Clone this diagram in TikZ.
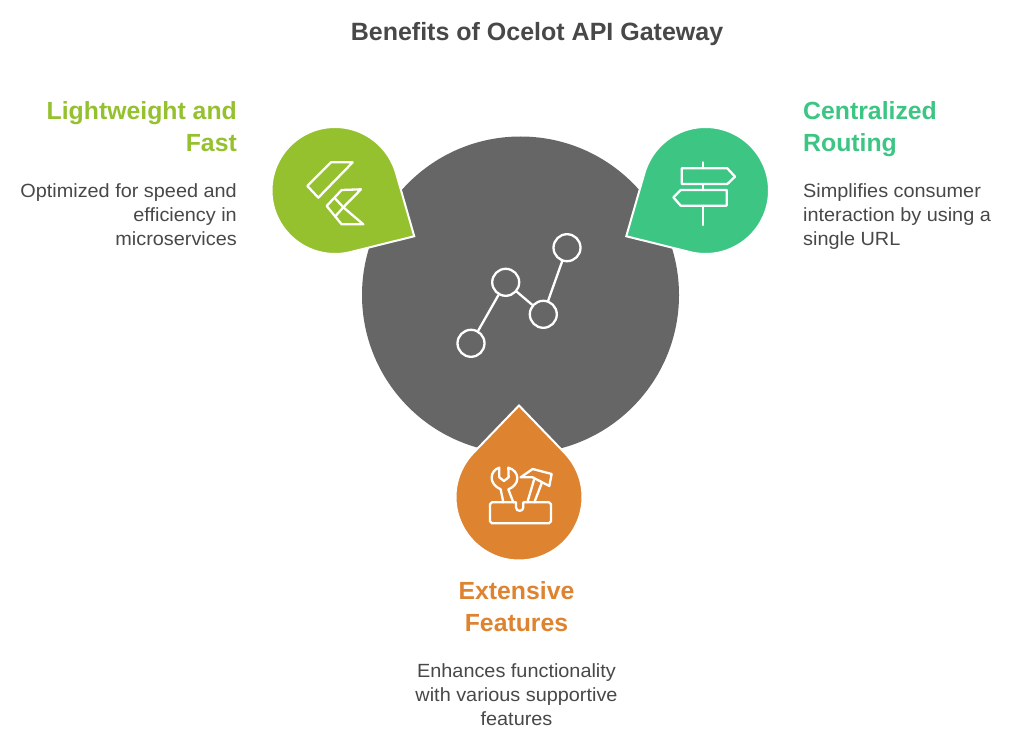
\documentclass[tikz,border=0pt]{standalone}
\usepackage{fontspec}
\setmainfont{Liberation Sans}
\newfontfamily\bodyfont[FakeStretch=1.04]{Liberation Sans}
\definecolor{cgrey}{HTML}{666666}
\definecolor{cgreen}{HTML}{95C12F}
\definecolor{cteal}{HTML}{3DC584}
\definecolor{corange}{HTML}{DE8431}
\definecolor{ctext}{HTML}{484848}
\newcommand{\dropshape}[4]{%
  \draw[white,line width=2pt,fill=#4,line join=miter]
    plot[domain={#3+46.6}:{#3+313.4},samples=90] ({#1+63.5*cos(\x)},{#2+63.5*sin(\x)}) --
    ({#1+91.5*cos(#3)},{#2+91.5*sin(#3)}) -- cycle;}
\tikzset{
  head/.style={font=\fontsize{24.8}{32}\selectfont\bfseries,inner sep=0pt},
  body/.style={font=\bodyfont\fontsize{19.1}{24}\selectfont,text=ctext,inner sep=0pt},
  icon/.style={draw=white,line width=2.3pt,line join=round,line cap=round},
  ring/.style={circle,draw=white,line width=2.3pt,minimum size=27pt,inner sep=0pt},
}
\begin{document}
\begin{tikzpicture}[x=1pt,y=-1pt]
\useasboundingbox[fill=white] (0,0) rectangle (1024,751);
\node[font=\fontsize{25}{30}\selectfont\bfseries,text=ctext,inner sep=0pt] (title) at (537,34) {Benefits of Ocelot API Gateway};
\fill[cgrey] (520.5,295) circle[radius=158.5];
\dropshape{335}{190.5}{30}{cgreen}
\dropshape{705.5}{190.5}{150}{cteal}
\dropshape{519}{497}{-90}{corange}
% centre icon
\node[ring] (r1) at (471,343.3) {};
\node[ring] (r2) at (505.7,282.3) {};
\node[ring] (r3) at (543.3,314.3) {};
\node[ring] (r4) at (567,247.7) {};
\draw[icon] (r1) -- (r2) (r2) -- (r3) (r3) -- (r4);
% flutter icon
\begin{scope}[shift={(260,120)},x=0.3333pt,y=-0.3333pt]
\draw[icon] (213,127) -- (278,127) -- (175,233) -- (142,198) -- cycle;
\draw[icon] (245,210) -- (303,208) -- (250,262) -- (310,313) -- (245,313) -- (200,258) -- cycle;
\draw[icon] (225,235) -- (250,262) -- (225,290);
\end{scope}
% signpost icon
\begin{scope}[shift={(620,120)},x=0.3333pt,y=-0.3333pt]
\draw[icon] (248,127) -- (248,145) (248,193) -- (248,210) (248,257) -- (248,315);
\draw[icon] (185,145) -- (322,145) -- (345,170) -- (322,192) -- (185,192) -- cycle;
\draw[icon] (320,210) -- (182,210) -- (160,232) -- (182,257) -- (320,257) -- cycle;
\end{scope}
% tools icon
\begin{scope}[shift={(440,400)},x=0.3333pt,y=-0.3333pt]
\draw[icon] (228,307) -- (156,307) -- (150,313) -- (150,364) -- (156,370) -- (327,370) -- (333,364) -- (333,313) -- (327,307) -- (250,307) -- (250,322) .. controls (250,336) and (228,336) .. (228,322) -- cycle;
\draw[icon] (190,307) -- (182,268) .. controls (165,260) and (155,248) .. (155,233) .. controls (155,218) and (165,207) .. (178,203) -- (178,232) -- (192,243) -- (206,232) -- (205,203) .. controls (222,208) and (232,220) .. (232,235) .. controls (232,250) and (220,262) .. (205,268) -- (220,307);
\draw[icon] (262,307) -- (282,240) (283,307) -- (305,250);
\draw[icon] (242,232) -- (278,207) -- (335,222) -- (328,258) -- (278,232) -- cycle;
\end{scope}
% labels
\node[head,text=cgreen,align=right,anchor=east] (h1) at (237,127) {Lightweight and\\Fast};
\node[body,align=right,anchor=east] (b1) at (237,215) {Optimized for speed and\\efficiency in\\microservices};
\node[head,text=cteal,align=left,anchor=west] (h2) at (803,129.5) {Centralized\\Routing};
\node[body,align=left,anchor=west] (b2) at (803,217) {Simplifies consumer\\interaction by using a\\single URL};
\node[head,text=corange,align=center] (h3) at (516.5,607) {Extensive\\Features};
\node[body,align=center] (b3) at (516.5,695) {Enhances functionality\\with various supportive\\features};
\end{tikzpicture}
\end{document}
